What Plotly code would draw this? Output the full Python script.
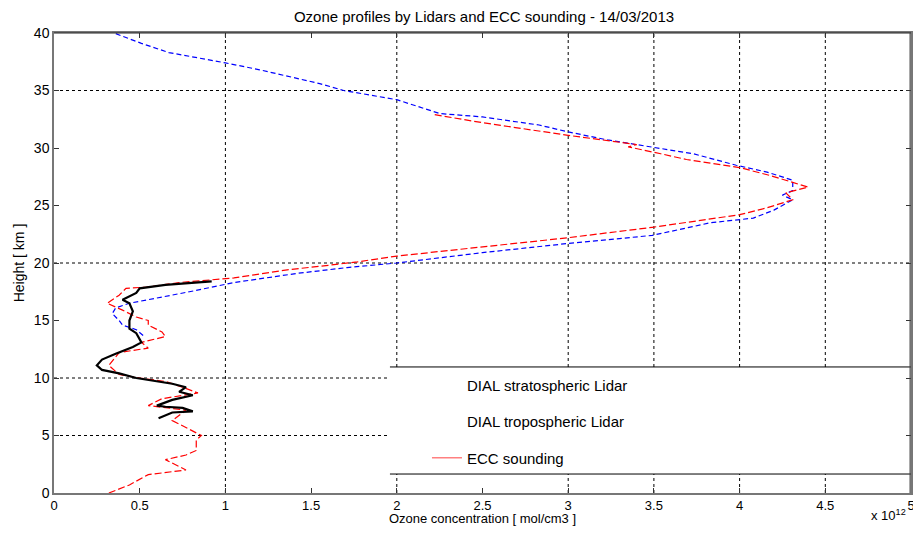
import plotly.graph_objects as go

# Ozone concentration in units of 1e12 mol/cm3, height in km
strat_x = [0.52, 0.48, 0.40, 0.38, 0.34, 0.36, 0.44, 0.55, 0.79, 1.05, 1.42, 1.71, 2.0, 2.5, 3.0,
           3.49, 3.83, 4.08, 4.2, 4.31, 4.25, 4.31, 4.31, 4.16, 3.98, 3.73, 3.49, 3.23, 3.0, 2.83,
           2.5, 2.25, 2.0, 1.85, 1.69, 1.55, 1.38, 1.2, 1.0, 0.85, 0.67, 0.51, 0.35]
strat_y = [13.7, 14.2, 14.6, 15.0, 15.6, 16.1, 16.5, 16.8, 17.5, 18.3, 19.1, 19.6, 20.0, 20.9, 21.7,
           22.4, 23.5, 23.9, 24.6, 25.5, 25.9, 26.3, 27.2, 27.9, 28.5, 29.5, 30.1, 30.7, 31.4, 32.0,
           32.7, 33.0, 34.2, 34.6, 35.0, 35.6, 36.2, 36.8, 37.4, 37.8, 38.3, 39.1, 40.0]

trop_x = [0.61, 0.69, 0.81, 0.75, 0.65, 0.60, 0.69, 0.81, 0.73, 0.77, 0.69, 0.55, 0.48, 0.38,
          0.28, 0.25, 0.28, 0.36, 0.46, 0.51, 0.48, 0.44, 0.44, 0.46, 0.44, 0.40, 0.48, 0.50,
          0.65, 0.92]
trop_y = [6.5, 7.0, 7.1, 7.4, 7.5, 7.6, 8.1, 8.5, 8.8, 9.2, 9.5, 9.8, 10.0, 10.4,
          10.7, 11.1, 11.6, 12.1, 12.7, 13.1, 13.9, 14.3, 15.0, 15.8, 16.5, 16.8, 17.4, 17.8,
          18.1, 18.4]

ecc_x = [0.32, 0.44, 0.55, 0.60, 0.77, 0.65, 0.77, 0.83, 0.83, 0.86, 0.77, 0.69, 0.77, 0.55,
         0.63, 0.84, 0.75, 0.65, 0.50, 0.38, 0.32, 0.38, 0.46, 0.55, 0.51, 0.65, 0.63, 0.55,
         0.55, 0.48, 0.40, 0.31, 0.38, 0.42, 0.54, 0.73, 1.05, 1.36, 1.60, 1.77, 2.0, 2.5,
         3.0, 3.49, 4.0, 4.16, 4.31, 4.27, 4.40, 4.29, 4.18, 4.0, 3.69, 3.54, 3.35, 3.40,
         3.35, 3.0, 2.5, 2.22]
ecc_y = [0.0, 0.7, 1.6, 1.7, 2.0, 2.9, 3.3, 3.7, 4.6, 5.0, 5.7, 6.3, 7.2, 7.6,
         8.2, 8.7, 9.2, 9.7, 10.0, 10.3, 11.1, 12.2, 12.4, 12.6, 13.1, 13.6, 14.0, 14.6,
         15.0, 15.3, 15.9, 16.5, 17.2, 17.8, 17.9, 18.3, 18.7, 19.4, 19.8, 20.1, 20.6, 21.4,
         22.2, 23.1, 24.2, 24.8, 25.5, 26.1, 26.6, 27.1, 27.6, 28.3, 29.0, 29.5, 30.1, 30.3,
         30.4, 31.1, 32.2, 32.9]

x_ticks = [0, 0.5, 1, 1.5, 2, 2.5, 3, 3.5, 4, 4.5, 5]
y_ticks = [0, 5, 10, 15, 20, 25, 30, 35, 40]
x_grid = [1, 2, 3, 3.5, 4, 4.5]
y_grid = [5, 10, 20, 35]

FONT = "Liberation Sans, Arial, sans-serif"

fig = go.Figure()
fig.add_trace(go.Scatter(x=strat_x, y=strat_y, mode="lines", name="DIAL stratospheric Lidar",
                         line=dict(color="#0000ff", width=1.2, dash="5px,3px"), showlegend=False))
fig.add_trace(go.Scatter(x=ecc_x, y=ecc_y, mode="lines", name="ECC sounding",
                         line=dict(color="#ff0000", width=1.2, dash="7px,3px"), showlegend=False))
fig.add_trace(go.Scatter(x=trop_x, y=trop_y, mode="lines", name="DIAL tropospheric Lidar",
                         line=dict(color="#000000", width=2.2), showlegend=False))
# legend entries (as drawn in the reference: only the ECC entry shows a line sample)
fig.add_trace(go.Scatter(x=[None], y=[None], mode="lines", name="DIAL stratospheric Lidar",
                         line=dict(color="rgba(0,0,0,0)"), legendgroup="a"))
fig.add_trace(go.Scatter(x=[None], y=[None], mode="lines", name="DIAL tropospheric Lidar",
                         line=dict(color="rgba(0,0,0,0)"), legendgroup="b"))
fig.add_trace(go.Scatter(x=[None], y=[None], mode="lines", name="ECC sounding",
                         line=dict(color="#ff8080", width=1.5), legendgroup="c"))

shapes = []
for gx in x_grid:
    shapes.append(dict(type="line", xref="x", yref="y", x0=gx, x1=gx, y0=0, y1=40,
                       line=dict(color="black", width=1, dash="dot"), layer="below"))
for gy in y_grid:
    shapes.append(dict(type="line", xref="x", yref="y", x0=0, x1=5, y0=gy, y1=gy,
                       line=dict(color="black", width=1, dash="dot"), layer="below"))
# legend box
shapes.append(dict(type="rect", xref="x", yref="y", x0=1.96, x1=5, y0=1.65, y1=10.96,
                   fillcolor="white", line=dict(width=0), layer="below"))
shapes.append(dict(type="line", xref="x", yref="y", x0=1.96, x1=5, y0=10.96, y1=10.96,
                   line=dict(color="black", width=1), layer="below"))
shapes.append(dict(type="line", xref="x", yref="y", x0=1.96, x1=5, y0=1.65, y1=1.65,
                   line=dict(color="black", width=1), layer="below"))
# plot frame (top and right edges)
shapes.append(dict(type="line", xref="paper", yref="paper", x0=0, x1=1, y0=1, y1=1,
                   line=dict(color="#222222", width=1.2)))
shapes.append(dict(type="line", xref="paper", yref="paper", x0=0.999, x1=0.999, y0=0, y1=1,
                   line=dict(color="#444444", width=1.2)))

# the page body adds an 8px offset; the figure is sized so the page does not overflow
fig.update_layout(
    width=905, height=518,
    margin=dict(l=46, r=2, t=25, b=33, autoexpand=False),
    paper_bgcolor="white", plot_bgcolor="white",
    font=dict(family=FONT, size=14, color="black"),
    title=dict(text="Ozone profiles by Lidars and ECC sounding - 14/03/2013",
               x=0.526, xanchor="center", y=0.9826, yanchor="middle",
               font=dict(family=FONT, size=15, color="black")),
    shapes=shapes,
    showlegend=True,
    legend=dict(x=0.4352, xanchor="left", y=0.2706, yanchor="top", bgcolor="rgba(0,0,0,0)",
                tracegroupgap=14, font=dict(family=FONT, size=15, color="black"),
                itemwidth=30),
    annotations=[dict(text="x 10<sup>12</sup>", xref="paper", yref="paper", x=0.996, y=-0.0705,
                      xanchor="right", yanchor="bottom", showarrow=False,
                      font=dict(family=FONT, size=13, color="black"))],
)
fig.update_xaxes(range=[0, 5], tickvals=x_ticks, ticktext=[f"{v:g}" for v in x_ticks],
                 showgrid=False, zeroline=False, showline=True, linecolor="#777777", linewidth=1.5,
                 mirror="ticks", ticks="inside", ticklen=5, tickcolor="#333333", automargin=False,
                 ticklabeloverflow="allow",
                 title=dict(text="Ozone concentration [ mol/cm3 ]", standoff=2,
                            font=dict(family=FONT, size=13)),
                 tickfont=dict(family=FONT, size=13))
fig.update_yaxes(range=[0, 40], tickvals=y_ticks, showgrid=False, zeroline=False,
                 showline=True, linecolor="#777777", linewidth=1.5, mirror="ticks",
                 ticks="inside", ticklen=5, tickcolor="#333333", automargin=False,
                 ticklabeloverflow="allow",
                 title=dict(text="Height [ km ]", standoff=6, font=dict(family=FONT, size=14)),
                 tickfont=dict(family=FONT, size=14))

fig.write_html("out.html")
